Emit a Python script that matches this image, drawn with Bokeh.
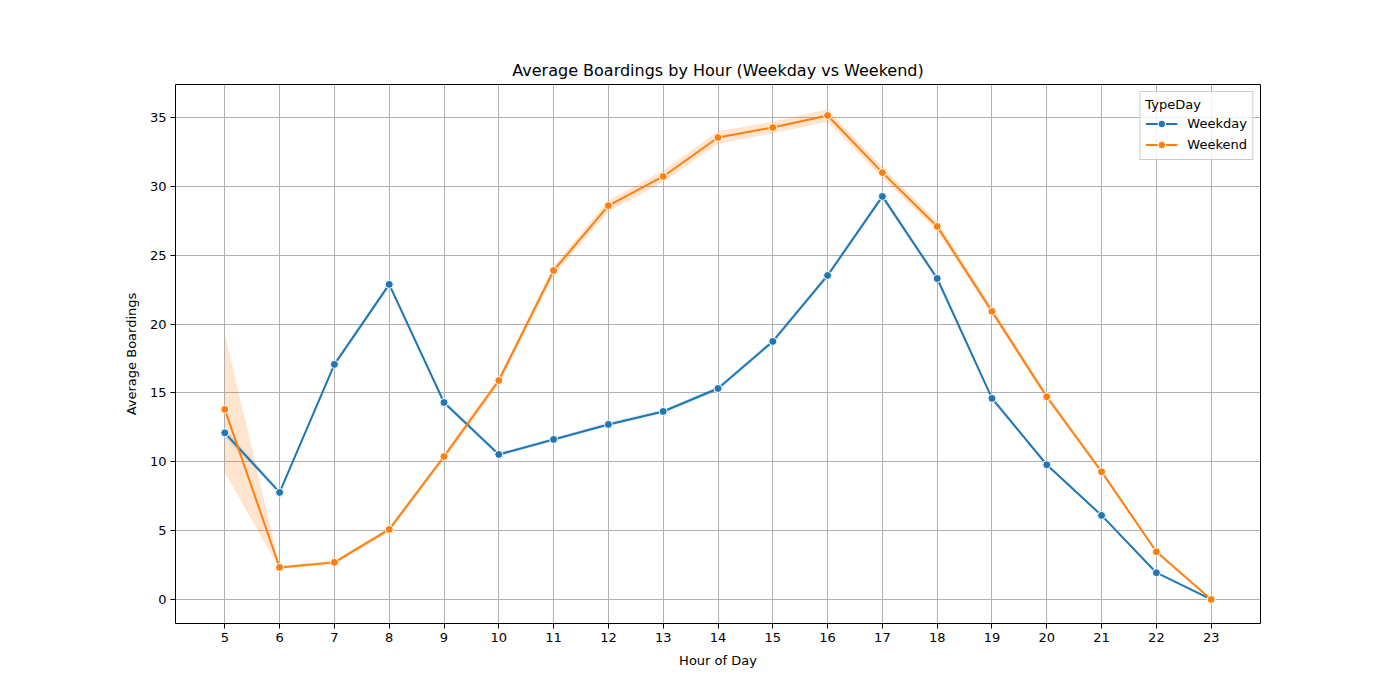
from bokeh.plotting import figure
from bokeh.models import ColumnDataSource, FixedTicker, Legend
from bokeh.embed import file_html
from bokeh.resources import INLINE

hours = list(range(5, 24))
weekday = [12.1, 7.77, 17.07, 22.88, 14.3, 10.53, 11.62, 12.71, 13.65, 15.32,
           18.74, 23.53, 29.27, 23.31, 14.6, 9.78, 6.1, 1.94, 0.0]
weekday_lo = [11.8, 7.65, 16.9, 22.7, 14.15, 10.4, 11.5, 12.58, 13.52, 15.17,
              18.58, 23.35, 29.07, 23.13, 14.47, 9.68, 6.02, 1.88, 0.0]
weekday_hi = [12.4, 7.9, 17.22, 23.05, 14.45, 10.66, 11.75, 12.85, 13.8, 15.47,
              18.9, 23.7, 29.47, 23.49, 14.73, 9.88, 6.18, 2.0, 0.0]
weekend = [13.8, 2.32, 2.69, 5.08, 10.38, 15.9, 23.89, 28.6, 30.72, 33.55,
           34.28, 35.15, 31.0, 27.09, 20.92, 14.72, 9.27, 3.46, 0.0]
weekend_lo = [9.2, 2.2, 2.55, 4.9, 10.15, 15.6, 23.55, 28.2, 30.3, 33.1,
              33.85, 34.7, 30.6, 26.75, 20.65, 14.5, 9.1, 3.35, 0.0]
weekend_hi = [19.3, 2.45, 2.83, 5.25, 10.6, 16.2, 24.2, 29.0, 31.15, 34.0,
              34.7, 35.6, 31.4, 27.45, 21.2, 14.95, 9.45, 3.58, 0.0]

BLUE = "#1f77b4"
ORANGE = "#ff7f0e"
FONT = "DejaVu Sans"

p = figure(width=1384, height=684, output_backend="svg", toolbar_location=None,
           x_range=(4.1, 23.9), y_range=(-1.75, 37.4),
           title="Average Boardings by Hour (Weekday vs Weekend)",
           min_border_left=175, min_border_right=124,
           min_border_top=84, min_border_bottom=61)

p.title.align = "center"
p.title.text_font = FONT
p.title.text_font_size = "16px"
p.title.text_font_style = "normal"
p.title.text_color = "black"

p.outline_line_color = "black"
p.outline_line_width = 1
p.outline_line_alpha = 1.0

src_wd = ColumnDataSource(dict(x=hours, y=weekday, lo=weekday_lo, hi=weekday_hi))
src_we = ColumnDataSource(dict(x=hours, y=weekend, lo=weekend_lo, hi=weekend_hi))

p.varea(x="x", y1="lo", y2="hi", source=src_wd, fill_color=BLUE, fill_alpha=0.2)
p.varea(x="x", y1="lo", y2="hi", source=src_we, fill_color=ORANGE, fill_alpha=0.2)

l1 = p.line("x", "y", source=src_wd, line_color=BLUE, line_width=2)
s1 = p.scatter("x", "y", source=src_wd, size=8, fill_color=BLUE,
               line_color="white", line_width=1)
l2 = p.line("x", "y", source=src_we, line_color=ORANGE, line_width=2)
s2 = p.scatter("x", "y", source=src_we, size=8, fill_color=ORANGE,
               line_color="white", line_width=1)

legend = Legend(items=[("Weekday", [l1, s1]), ("Weekend", [l2, s2])],
                location="top_right", title="TypeDay")
legend.title_text_font = FONT
legend.title_text_font_size = "13px"
legend.title_text_font_style = "normal"
legend.title_text_color = "black"
legend.label_text_font = FONT
legend.label_text_font_size = "13px"
legend.label_text_color = "black"
legend.border_line_color = "#cccccc"
legend.border_line_alpha = 1.0
legend.background_fill_alpha = 0.8
legend.margin = 7
legend.padding = 5
legend.spacing = 2
legend.label_height = 19
legend.glyph_height = 19
legend.glyph_width = 32
legend.label_standoff = 10
legend.title_standoff = 2
p.add_layout(legend)

p.xaxis.ticker = FixedTicker(ticks=hours)
p.yaxis.ticker = FixedTicker(ticks=[0, 5, 10, 15, 20, 25, 30, 35])
p.xaxis.axis_label = "Hour of Day"
p.yaxis.axis_label = "Average Boardings"
for ax in (p.xaxis[0], p.yaxis[0]):
    ax.axis_label_text_font = FONT
    ax.axis_label_text_font_size = "13px"
    ax.axis_label_text_font_style = "normal"
    ax.axis_label_text_color = "black"
    ax.major_label_text_font = FONT
    ax.major_label_text_font_size = "13px"
    ax.major_label_text_color = "black"
    ax.axis_line_color = None
    ax.major_tick_line_color = "black"
    ax.major_tick_in = 0
    ax.major_tick_out = 5
    ax.minor_tick_line_color = None
    ax.major_label_standoff = 4
    ax.axis_label_standoff = 8

p.grid.grid_line_color = "#b0b0b0"
p.grid.grid_line_width = 1

open("out.html", "w").write(file_html(p, INLINE))
